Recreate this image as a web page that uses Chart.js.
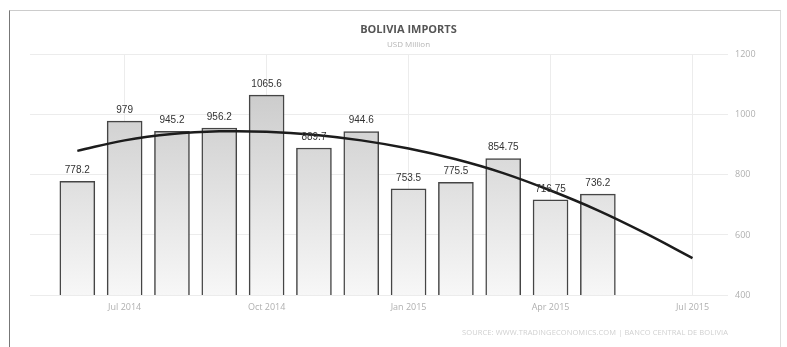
<!DOCTYPE html>
<html>
<head>
<meta charset="utf-8">
<script src="https://cdn.jsdelivr.net/npm/chart.js@4.4.1/dist/chart.umd.min.js"></script>
<style>
  body { margin: 0; background: #fff; }
  #wrap { position: relative; width: 787px; height: 347px; overflow: hidden; }
  #frame { position: absolute; left: 9px; top: 10px; width: 770px; height: 345px;
           border-left: 1px solid #777; border-top: 1px solid #ccc; border-right: 1px solid #ddd; }
  #source { position: absolute; left: 462px; top: 327px; font: 7.5px "Open Sans", sans-serif;
            color: #d0d0d0; white-space: nowrap; letter-spacing: 0.1px; }
  canvas { position: absolute; left: 0; top: 0; }
</style>
</head>
<body>
<div id="wrap">
  <div id="frame"></div>
  <canvas id="chart" width="787" height="347"></canvas>
  <div id="source">SOURCE: WWW.TRADINGECONOMICS.COM | BANCO CENTRAL DE BOLIVIA</div>
</div>
<script>
// months, index 0 = May 2014
const months = ['May 2014','Jun 2014','Jul 2014','Aug 2014','Sep 2014','Oct 2014','Nov 2014','Dec 2014',
                'Jan 2015','Feb 2015','Mar 2015','Apr 2015','May 2015','Jun 2015','Jul 2015'];

// imports, Jun 2014 .. May 2015
const imports = [778.2, 979, 945.2, 956.2, 1065.6, 889.7, 944.6, 753.5, 775.5, 854.75, 716.75, 736.2];
const importLabels = ['778.2','979','945.2','956.2','1065.6','889.7','944.6','753.5','775.5','854.75','716.75','736.2'];

// trend line, Jun 2014 .. Jul 2015
const trend = [880, 915, 936, 945, 944, 934, 915, 888, 852, 806, 748, 682, 606, 523];

const xTickMonths = [2, 5, 8, 11, 14];
const yTicks = [400, 600, 800, 1000, 1200];

const barPoints = imports.map(( v, i ) => ({ x: i + 1, y: v }));
const trendPoints = trend.map(( v, i ) => ({ x: i + 1, y: v }));

function barGradient( context )
{
    const area = context.chart.chartArea;
    if( !area ) return '#ddd';
    const g = context.chart.ctx.createLinearGradient(0, area.top, 0, area.bottom);
    g.addColorStop(0, '#c4c4c4');
    g.addColorStop(1, '#f7f7f7');
    return g;
}

const barValueLabels = {
    id: 'barValueLabels',
    afterDatasetsDraw( chart )
    {
        const ctx = chart.ctx;
        const meta = chart.getDatasetMeta(1);
        ctx.save();
        ctx.font = '10px "Liberation Sans", Arial, sans-serif';
        ctx.fillStyle = '#333';
        ctx.textAlign = 'center';
        ctx.textBaseline = 'bottom';
        meta.data.forEach(( bar, i ) => {
            ctx.fillText(importLabels[i], bar.x, bar.y - 6);
        });
        ctx.restore();
    }
};

new Chart(document.getElementById('chart'), {
    data: {
        datasets: [
            {
                type: 'line',
                data: trendPoints,
                borderColor: '#1c1c1c',
                borderWidth: 2.5,
                pointRadius: 0,
                tension: 0.4,
                fill: false,
                order: 0
            },
            {
                type: 'bar',
                data: barPoints,
                backgroundColor: barGradient,
                borderColor: '#454545',
                borderWidth: 1.5,
                barThickness: 35,
                order: 1
            }
        ]
    },
    options: {
        responsive: false,
        animation: false,
        layout: { padding: { left: 30, right: 0, top: 0, bottom: 0 } },
        plugins: {
            legend: { display: false },
            tooltip: { enabled: false },
            title: {
                display: true,
                text: 'BOLIVIA IMPORTS',
                color: '#555',
                font: { family: '"Open Sans", sans-serif', size: 11, weight: 'bold', lineHeight: 1.2 },
                padding: { top: 23, bottom: 2 }
            },
            subtitle: {
                display: true,
                text: 'USD Million',
                color: '#b5b5b5',
                font: { family: '"Open Sans", sans-serif', size: 8, lineHeight: 1.2 },
                padding: { top: 2, bottom: 5 }
            }
        },
        scales: {
            x: {
                type: 'linear',
                position: 'bottom',
                offset: false,
                min: 0,
                max: 14.75,
                afterBuildTicks: ( scale ) => { scale.ticks = xTickMonths.map(v => ({ value: v })); },
                afterFit: ( scale ) => { scale.height = 52; },
                grid: { color: '#ececec', drawTicks: false, offset: false },
                border: { display: false },
                ticks: {
                    padding: 7,
                    color: '#b0b0b0',
                    font: { family: '"Open Sans", sans-serif', size: 9 },
                    callback: ( v ) => months[v]
                }
            },
            y: {
                position: 'right',
                min: 400,
                max: 1200,
                afterBuildTicks: ( scale ) => { scale.ticks = yTicks.map(v => ({ value: v })); },
                afterFit: ( scale ) => { scale.width = 59; },
                grid: { color: '#ececec', drawTicks: false },
                border: { display: false },
                ticks: {
                    padding: 7,
                    color: '#b0b0b0',
                    font: { family: '"Open Sans", sans-serif', size: 9 },
                    callback: ( v ) => String(v)
                }
            }
        }
    },
    plugins: [barValueLabels]
});
</script>
</body>
</html>
